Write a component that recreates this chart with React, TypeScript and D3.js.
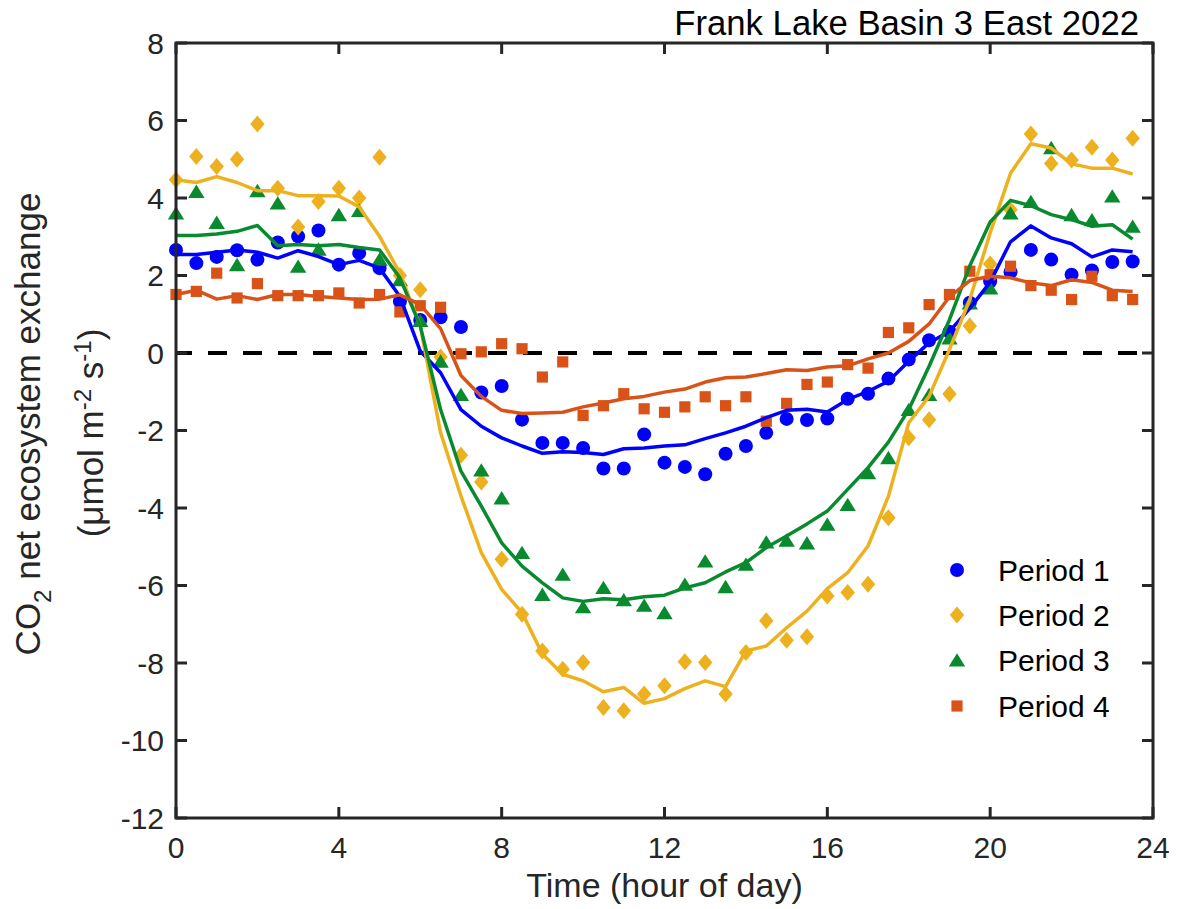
import React from 'react';
import * as d3 from 'd3';

const hours = [0, 0.5, 1, 1.5, 2, 2.5, 3, 3.5, 4, 4.5, 5, 5.5, 6, 6.5, 7, 7.5, 8, 8.5, 9, 9.5, 10, 10.5, 11, 11.5,
  12, 12.5, 13, 13.5, 14, 14.5, 15, 15.5, 16, 16.5, 17, 17.5, 18, 18.5, 19, 19.5, 20, 20.5, 21, 21.5, 22, 22.5, 23, 23.5];

const xTicks = [0, 4, 8, 12, 16, 20, 24];
const yTicks = [8, 6, 4, 2, 0, -2, -4, -6, -8, -10, -12];

const periodNames = ['Period 1', 'Period 2', 'Period 3', 'Period 4'];

// Period 1 (observed points and fitted line)
const p1Obs = [2.66, 2.32, 2.48, 2.65, 2.41, 2.85, 3.01, 3.16, 2.28, 2.58, 2.19, 1.33, 0.85, 0.92, 0.67, -1.02,
  -0.85, -1.72, -2.32, -2.32, -2.45, -2.98, -2.98, -2.10, -2.83, -2.94, -3.13, -2.60, -2.40, -2.06, -1.70, -1.73,
  -1.69, -1.18, -1.05, -0.66, -0.17, 0.33, 0.55, 1.30, 1.85, 2.09, 2.66, 2.41, 2.02, 2.13, 2.35, 2.36];
const p1Fit = [2.54, 2.54, 2.60, 2.66, 2.60, 2.45, 2.64, 2.49, 2.28, 2.39, 2.19, 1.46, 0.05, -0.51, -1.46, -1.89,
  -2.19, -2.40, -2.59, -2.55, -2.57, -2.62, -2.47, -2.45, -2.40, -2.37, -2.21, -2.06, -1.89, -1.67, -1.48, -1.45,
  -1.52, -1.20, -0.99, -0.73, -0.21, 0.26, 0.56, 1.15, 1.83, 2.87, 3.28, 2.97, 2.82, 2.48, 2.66, 2.61];

// Period 2
const p2Obs = [4.47, 5.07, 4.81, 5.00, 5.91, 4.25, 3.25, 3.91, 4.25, 4.00, 5.05, 2.00, 1.63, -0.10, -2.64, -3.33,
  -5.32, -6.74, -7.69, -8.16, -7.99, -9.15, -9.23, -8.80, -8.59, -7.97, -7.99, -8.80, -7.73, -6.91, -7.41, -7.32,
  -6.27, -6.18, -5.97, -4.25, -2.19, -1.72, -1.06, 0.70, 2.30, 3.70, 5.65, 4.89, 4.98, 5.31, 4.98, 5.54];
const p2Fit = [4.47, 4.40, 4.55, 4.40, 4.19, 4.19, 4.06, 4.06, 4.05, 3.77, 3.01, 2.06, 0.70, -2.06, -3.69, -5.15,
  -6.10, -6.70, -7.77, -8.29, -8.46, -8.74, -8.63, -9.04, -8.92, -8.66, -8.46, -8.61, -7.69, -7.56, -7.09, -6.66,
  -6.08, -5.67, -4.98, -3.70, -1.80, -1.12, 0.09, 1.38, 3.10, 4.64, 5.40, 5.29, 4.88, 4.77, 4.77, 4.62];

// Period 3
const p3Obs = [3.61, 4.17, 3.37, 2.28, 4.19, 3.87, 2.24, 2.68, 3.57, 3.68, 2.42, 1.89, 0.84, -0.21, -1.07, -3.02,
  -3.74, -5.15, -6.23, -5.71, -6.55, -6.05, -6.37, -6.51, -6.70, -5.97, -5.37, -6.03, -5.45, -4.88, -4.83, -4.90,
  -4.42, -3.91, -3.09, -2.70, -1.46, -1.07, 0.39, 1.29, 1.68, 3.61, 3.91, 5.30, 3.57, 3.44, 4.05, 3.27];
const p3Fit = [3.03, 3.03, 3.07, 3.14, 3.29, 2.77, 2.80, 2.77, 2.80, 2.72, 2.66, 1.94, 0.70, -1.46, -3.05, -3.95,
  -4.90, -5.50, -5.93, -6.32, -6.41, -6.34, -6.37, -6.29, -6.25, -6.06, -5.93, -5.65, -5.41, -5.02, -4.72, -4.41,
  -4.08, -3.52, -2.96, -2.30, -1.46, -0.34, 0.86, 2.25, 3.38, 3.94, 3.80, 3.57, 3.44, 3.27, 3.31, 2.94];

// Period 4
const p4Obs = [1.51, 1.59, 2.06, 1.42, 1.79, 1.48, 1.48, 1.48, 1.55, 1.29, 1.51, 1.06, 1.22, 1.18, -0.02, 0.03,
  0.24, 0.11, -0.62, -0.23, -1.61, -1.36, -1.05, -1.44, -1.53, -1.39, -1.13, -1.36, -1.13, -1.76, -1.30, -0.81,
  -0.75, -0.30, -0.39, 0.53, 0.65, 1.25, 1.51, 2.11, 2.02, 2.24, 1.74, 1.62, 1.38, 1.98, 1.48, 1.38];
const p4Fit = [1.51, 1.62, 1.39, 1.48, 1.38, 1.51, 1.51, 1.46, 1.42, 1.38, 1.39, 1.50, 1.25, 0.63, -0.58, -1.12,
  -1.48, -1.56, -1.55, -1.53, -1.39, -1.29, -1.18, -1.12, -1.01, -0.93, -0.75, -0.64, -0.62, -0.53, -0.43, -0.45,
  -0.36, -0.33, -0.15, 0.00, 0.30, 0.75, 1.45, 1.87, 1.98, 1.94, 1.81, 1.74, 1.89, 1.82, 1.62, 1.59];

const colors = ['#0000FF', '#EDB120', '#0A8A2E', '#D95319'];
const markers = ['circle', 'diamond', 'triangle', 'square'];

const FONT = '"Liberation Sans", Arial, Helvetica, sans-serif';
const AXIS = '#262626';

function Marker({ kind, cx, cy, color }: { kind: string; cx: number; cy: number; color: string }) {
  if (kind === 'circle') return <circle cx={cx} cy={cy} r={7} fill={color} />;
  if (kind === 'diamond')
    return <path transform={`translate(${cx},${cy})`} d="M0,-8.5L7.2,0L0,8.5L-7.2,0Z" fill={color} />;
  if (kind === 'triangle')
    return <path transform={`translate(${cx},${cy})`} d="M0,-6.8L8.2,6.5L-8.2,6.5Z" fill={color} />;
  return <rect x={cx - 5.6} y={cy - 5.6} width={11.2} height={11.2} fill={color} />;
}

export default function App() {
  const W = 1178;
  const H = 909;
  const left = 176, right = 1153, top = 43, bottom = 818;
  const x = d3.scaleLinear().domain([0, 24]).range([left, right]);
  const y = d3.scaleLinear().domain([-12, 8]).range([bottom, top]);

  const obs = [p1Obs, p2Obs, p3Obs, p4Obs];
  const fits = [p1Fit, p2Fit, p3Fit, p4Fit];

  const line = d3
    .line<number>()
    .x((_, i) => x(hours[i]))
    .y((d) => y(d));

  const tickLen = 11;
  const legendX = 957;
  const legendTextX = 998;
  const legendY = [570, 615, 660, 706];

  return (
    <svg width={W} height={H} style={{ position: 'absolute', left: 0, top: 0, background: '#fff' }}
      fontFamily={FONT}>
      <rect x={0} y={0} width={W} height={H} fill="#fff" />

      {/* zero reference line */}
      <line x1={left} x2={right} y1={y(0)} y2={y(0)} stroke="#000" strokeWidth={3.8}
        strokeDasharray="19 16" strokeDashoffset={3} />

      {/* observed markers */}
      {obs.map((series, si) => (
        <g key={`m${si}`}>
          {series.map((v, i) => (
            <Marker key={i} kind={markers[si]} cx={x(hours[i])} cy={y(v)} color={colors[si]} />
          ))}
        </g>
      ))}

      {/* fitted lines */}
      {fits.map((series, si) => (
        <path key={`l${si}`} d={line(series) || ''} fill="none" stroke={colors[si]} strokeWidth={3.5}
          strokeLinejoin="round" strokeLinecap="butt" />
      ))}

      {/* axes box */}
      <rect x={left} y={top} width={right - left} height={bottom - top} fill="none" stroke={AXIS} strokeWidth={3} />

      {/* x ticks */}
      {xTicks.map((t) => (
        <g key={`xt${t}`}>
          <line x1={x(t)} x2={x(t)} y1={bottom} y2={bottom - tickLen} stroke={AXIS} strokeWidth={3} />
          <line x1={x(t)} x2={x(t)} y1={top} y2={top + tickLen} stroke={AXIS} strokeWidth={3} />
          <text x={x(t)} y={858} textAnchor="middle" fontSize={30} fill={AXIS}>{t}</text>
        </g>
      ))}

      {/* y ticks */}
      {yTicks.map((t) => (
        <g key={`yt${t}`}>
          <line x1={left} x2={left + tickLen} y1={y(t)} y2={y(t)} stroke={AXIS} strokeWidth={3} />
          <line x1={right} x2={right - tickLen} y1={y(t)} y2={y(t)} stroke={AXIS} strokeWidth={3} />
          <text x={164} y={y(t) + 10.5} textAnchor="end" fontSize={30} fill={AXIS}>{t}</text>
        </g>
      ))}

      {/* title */}
      <text x={1139} y={35} textAnchor="end" fontSize={34.7} fill="#000">Frank Lake Basin 3 East 2022</text>

      {/* x label */}
      <text x={(left + right) / 2} y={897} textAnchor="middle" fontSize={34} fill={AXIS}>Time (hour of day)</text>

      {/* y label */}
      <text transform="translate(40,424) rotate(-90)" textAnchor="middle" fontSize={35} fill={AXIS}>
        CO<tspan fontSize={24} dy={11}>2</tspan><tspan dy={-11}> net ecosystem exchange</tspan>
      </text>
      <text transform="translate(103,433) rotate(-90)" textAnchor="middle" fontSize={35} fill={AXIS}>
        (μmol m<tspan fontSize={24} dy={-12}>-2</tspan><tspan dy={12}> s</tspan><tspan fontSize={24} dy={-12}>-1</tspan><tspan dy={12}>)</tspan>
      </text>

      {/* legend */}
      {periodNames.map((name, i) => (
        <g key={`lg${i}`}>
          <Marker kind={markers[i]} cx={legendX} cy={legendY[i]} color={colors[i]} />
          <text x={legendTextX} y={legendY[i] + 11} fontSize={30} fill="#000">{name}</text>
        </g>
      ))}
    </svg>
  );
}
